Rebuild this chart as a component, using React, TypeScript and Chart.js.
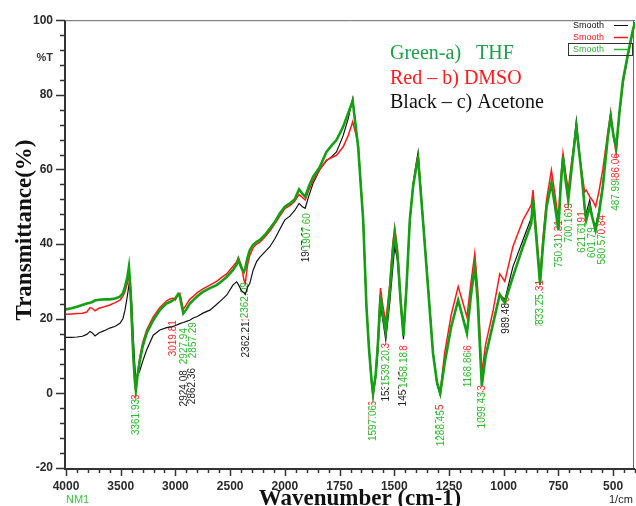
import { useEffect, useRef } from "react";
import { Chart, registerables } from "chart.js";

Chart.register(...registerables);

// ---- data (wavenumber in cm-1, transmittance in %) ----
const WAVENUMBERS = [
  4000, 3950, 3900, 3850, 3810, 3780, 3760, 3735, 3700, 3650, 3600, 3550, 3507, 3480, 3461, 3440, 3425, 3410, 3400, 3385,
  3370, 3362, 3345, 3324, 3300, 3263, 3203, 3142, 3081, 3040, 3020, 3000, 2975, 2960, 2928, 2900, 2870, 2837, 2800, 2749,
  2685, 2624, 2580, 2532, 2475, 2441, 2425, 2395, 2375, 2362, 2340, 2320, 2290, 2258, 2228, 2180, 2137, 2090, 2046, 2000,
  1977, 1955, 1935, 1920, 1907, 1890, 1871, 1840, 1810, 1785, 1764, 1734, 1711, 1690, 1665, 1642, 1627, 1615, 1604, 1597,
  1585, 1575, 1563, 1552, 1539, 1521, 1507, 1498, 1485, 1470, 1458, 1444, 1429, 1414, 1399, 1391, 1369, 1346, 1323, 1305,
  1290, 1270, 1240, 1208, 1190, 1168, 1150, 1132, 1119, 1100, 1083, 1049, 1018, 995, 958, 912, 874, 866, 850, 834,
  820, 804, 782, 765, 750, 740, 729, 717, 705, 690, 668, 646, 630, 623, 607, 592, 580, 565, 547, 524,
  511, 498, 486, 470, 455, 432, 410, 400,
];
const THF = [
  22.5, 22.8, 23.2, 23.7, 24.1, 24.3, 24.5, 24.9, 25.1, 25.2, 25.2, 25.4, 25.9, 26.8, 28.6, 31.0, 33.9, 28.0, 20.5, 10.0,
  3.0, 0.8, 5.0, 8.9, 12.5, 16.1, 19.6, 22.3, 24.1, 24.6, 25.0, 25.5, 26.6, 26.0, 21.4, 22.5, 24.0, 25.0, 26.0, 27.2,
  28.2, 29.0, 30.0, 31.2, 33.0, 34.5, 35.8, 33.5, 32.5, 33.5, 36.5, 38.4, 39.8, 40.6, 41.1, 42.5, 44.2, 46.0, 48.2, 50.0,
  50.9, 52.0, 54.7, 53.5, 52.7, 55.5, 58.0, 60.7, 64.7, 66.5, 67.9, 71.4, 75.0, 78.4, 66.0, 46.4, 23.0, 11.6, 3.6, 0.0,
  5.0, 13.0, 26.3, 21.0, 16.5, 27.0, 38.0, 42.9, 37.0, 24.0, 15.5, 28.6, 46.4, 55.4, 60.7, 62.8, 46.4, 28.6, 10.7, 3.0,
  0.0, 8.0, 17.8, 25.0, 21.0, 16.1, 26.0, 34.0, 25.0, 2.0, 9.8, 18.5, 26.5, 24.3, 31.2, 39.3, 45.5, 52.0, 41.0, 29.5,
  40.0, 50.0, 56.3, 50.0, 43.7, 55.0, 63.4, 57.0, 51.8, 60.0, 71.4, 59.8, 50.0, 46.4, 50.0, 46.4, 43.7, 48.0, 55.4, 68.8,
  74.1, 69.0, 66.0, 76.0, 83.9, 91.0, 97.3, 99.5,
];
const DMSO = [
  21.2, 21.3, 21.4, 21.5, 21.8, 23.0, 22.8, 22.1, 22.8, 23.2, 23.7, 24.3, 25.0, 26.0, 27.2, 29.5, 32.1, 25.0, 19.0, 9.5,
  2.5, 0.5, 5.5, 10.0, 13.5, 17.0, 20.5, 23.0, 24.8, 25.4, 25.5, 25.0, 26.5, 26.8, 22.5, 23.8, 25.2, 26.0, 27.0, 28.0,
  29.0, 30.0, 31.0, 32.0, 34.0, 35.2, 36.5, 34.0, 30.5, 29.5, 34.5, 37.0, 39.0, 40.0, 40.5, 42.0, 43.5, 45.5, 47.5, 49.5,
  50.3, 51.5, 53.3, 52.5, 51.8, 54.5, 57.0, 60.0, 62.5, 63.2, 63.8, 66.0, 69.0, 72.8, 67.0, 46.4, 23.0, 11.6, 3.0, -1.0,
  5.0, 14.0, 28.2, 23.5, 19.0, 29.0, 40.0, 44.6, 38.5, 25.0, 17.0, 29.0, 46.5, 56.0, 61.5, 63.5, 46.8, 29.0, 11.0, 3.0,
  0.5, 10.7, 21.0, 28.6, 25.0, 20.5, 29.5, 37.5, 28.0, 5.5, 13.0, 22.0, 32.0, 30.0, 39.3, 46.4, 50.5, 54.5, 43.0, 31.2,
  42.0, 52.0, 59.8, 53.0, 46.4, 57.0, 64.3, 59.0, 54.5, 62.0, 70.5, 60.5, 54.0, 54.5, 52.7, 51.5, 50.0, 54.0, 60.0, 70.0,
  75.4, 68.5, 64.3, 75.5, 83.0, 90.5, 97.0, 99.5,
];
const ACETONE = [
  15.0, 15.0, 15.1, 15.3, 15.8, 16.6, 16.2, 15.4, 16.2, 16.8, 17.5, 18.0, 18.8, 20.0, 22.3, 26.0, 29.0, 27.0, 24.5, 15.0,
  7.0, 4.5, 4.8, 6.2, 8.5, 11.6, 15.6, 17.0, 17.6, 17.8, 18.0, 18.2, 18.5, 18.7, 19.0, 19.3, 19.6, 20.2, 20.6, 21.5,
  22.3, 23.8, 25.0, 26.3, 29.0, 29.9, 29.2, 27.5, 27.0, 26.5, 28.5, 29.5, 33.0, 35.3, 36.5, 38.0, 39.3, 41.5, 44.0, 46.5,
  47.5, 49.0, 50.9, 50.0, 49.6, 53.0, 56.3, 60.0, 62.3, 63.5, 64.7, 69.0, 73.5, 79.0, 66.0, 46.4, 23.0, 11.6, 4.0, 0.5,
  4.0, 11.0, 23.5, 19.5, 14.3, 24.0, 33.5, 39.3, 35.5, 23.0, 14.5, 28.0, 46.0, 56.0, 62.0, 64.7, 47.0, 29.0, 11.0, 2.5,
  -0.5, 8.0, 17.8, 25.0, 21.0, 16.5, 26.5, 34.8, 25.0, 2.0, 10.0, 19.0, 26.5, 25.0, 33.9, 41.1, 47.0, 52.5, 41.0, 29.0,
  40.0, 50.5, 56.5, 50.5, 44.0, 55.0, 64.0, 57.5, 52.0, 61.0, 73.2, 60.0, 49.0, 48.2, 51.8, 46.4, 45.0, 49.0, 56.0, 69.0,
  74.0, 69.0, 66.0, 76.0, 84.0, 91.0, 97.0, 99.5,
];

const X_TICKS = [4000, 3500, 3000, 2500, 2000, 1750, 1500, 1250, 1000, 750, 500];
const Y_TICKS = [-20, 0, 20, 40, 60, 80, 100];

const SERIES_NAMES = ["THF", "DMSO", "Acetone"];
const NOTE_LINES = ["Green-a)   THF", "Red \u2013 b) DMSO", "Black \u2013 c) Acetone"];

// peak labels: series index (0 THF, 1 DMSO, 2 Acetone), text, wavenumber position, top transmittance
const PEAK_SERIES = [
  1, 1, 1, 1, 1, 1, 1, 1, 1, 1, 1, 1, 1, 1, 1, 1,
  2, 2, 2, 2, 2, 2, 2,
  0, 0, 0, 0, 0, 0, 0, 0, 0, 0, 0, 0, 0, 0, 0, 0, 0, 0, 0,
  2,
];
const PEAK_TEXTS = [
  "3361.93", "3019.81", "2362.21", "1597.06", "1539.13", "1458.18", "1288.45", "1168.86", "1099.43", "989.48", "833.31", "750.31", "700.09", "621.91", "580.84", "486.06",
  "2924.08", "2862.36", "2362.21", "1907.60", "1539.28", "1458.18", "833.25",
  "3361.93", "2927.94", "2857.29", "2362.09", "1907.60", "1597.06", "1539.20", "1458.18", "1288.45", "1168.86", "1099.43", "989.48", "833.25", "750.31", "700.16", "621.61", "601.79", "580.57", "487.99",
  "989.48",
];
const PEAK_WAVENUMBERS = [
  3362, 3020, 2360, 1598, 1540, 1458, 1290, 1166, 1099, 990, 835, 750, 703, 642, 552, 487,
  2924, 2855, 2356, 1906, 1541, 1459, 836,
  3362, 2927, 2845, 2366, 1900, 1597, 1539, 1457, 1289, 1165, 1098, 989, 834, 750, 703, 642, 596, 552, 488,
  990,
];
const PEAK_TOPS = [
  -0.3, 19.6, 20.7, -2.0, 13.5, 12.9, -3.0, 12.9, 2.2, 26.0, 30.4, 46.4, 51.0, 48.8, 47.8, 64.4,
  6.2, 6.8, 19.3, 44.8, 7.5, 6.2, 26.1,
  -1.5, 17.5, 19.1, 29.8, 48.3, -3.1, 11.6, 11.1, -4.5, 11.1, 0.3, 24.2, 26.6, 41.9, 48.6, 45.9, 44.5, 42.7, 57.1,
  24.2,
];

// ---- helpers: the instrument plots 4000-2000 at half the scale of 2000-400 ----
const toAxis = (w: number) => (w >= 2000 ? (4000 - w) / 2 : 1000 + (2000 - w));
const fromAxis = (p: number) => (p <= 1000 ? 4000 - 2 * p : 2000 - (p - 1000));

const LINE_COLORS = ["#14a014", "#ff1a1a", "#111111"];
const LABEL_COLORS = ["#2fb82f", "#ff2a2a", "#222222"];
const SERIF = "'Liberation Serif', 'Times New Roman', serif";
const SANS = "'Liberation Sans', Arial, sans-serif";

const decorPlugin = {
  id: "decor",
  beforeDatasetsDraw(chart: any) {
    const { ctx, scales } = chart;
    const xs = scales.x;
    const ys = scales.y;
    ctx.save();
    ctx.font = `10px ${SANS}`;
    ctx.textAlign = "right";
    ctx.textBaseline = "middle";
    PEAK_TEXTS.forEach((t, i) => {
      const px = xs.getPixelForValue(toAxis(PEAK_WAVENUMBERS[i]));
      const py = ys.getPixelForValue(PEAK_TOPS[i]);
      const w = ctx.measureText(t).width;
      ctx.save();
      ctx.translate(px, py);
      ctx.rotate(-Math.PI / 2);
      ctx.fillStyle = "#ffffff";
      ctx.fillRect(-w - 1, -4.5, w + 1, 9);
      ctx.fillStyle = LABEL_COLORS[PEAK_SERIES[i]];
      ctx.fillText(t, 0, 0.5);
      ctx.restore();
    });
    ctx.restore();
  },
  afterDraw(chart: any) {
    const { ctx, chartArea, scales } = chart;
    const { left, right, top, bottom } = chartArea;
    const xs = scales.x;
    const ys = scales.y;
    ctx.save();

    // frame
    ctx.strokeStyle = "#666";
    ctx.lineWidth = 1;
    ctx.beginPath();
    ctx.moveTo(left, top + 0.5);
    ctx.lineTo(right, top + 0.5);
    ctx.moveTo(right - 1.5, top);
    ctx.lineTo(right - 1.5, bottom);
    ctx.stroke();
    ctx.strokeStyle = "#333";
    ctx.lineWidth = 2;
    ctx.beginPath();
    ctx.moveTo(left - 1, top);
    ctx.lineTo(left - 1, bottom + 1);
    ctx.lineTo(right, bottom + 1);
    ctx.stroke();

    // ticks
    ctx.lineWidth = 1.5;
    ctx.beginPath();
    for (let p = 0; p <= 2600; p += 50) {
      const px = Math.round(xs.getPixelForValue(p)) + 0.5;
      const len = p % 250 === 0 ? 7 : 4;
      ctx.moveTo(px, bottom + 1);
      ctx.lineTo(px, bottom + 1 + len);
    }
    for (let v = -20; v <= 100; v += 4) {
      const py = Math.round(ys.getPixelForValue(v)) + 0.5;
      const len = v % 20 === 0 ? 9 : 5;
      ctx.moveTo(left - 1, py);
      ctx.lineTo(left - 1 - len, py);
    }
    ctx.stroke();

    // axis titles
    ctx.fillStyle = "#111";
    ctx.font = `bold 23px ${SERIF}`;
    ctx.textAlign = "center";
    ctx.textBaseline = "alphabetic";
    ctx.fillText("Wavenumber (cm-1)", 360, 505);
    ctx.save();
    ctx.translate(31, 230);
    ctx.rotate(-Math.PI / 2);
    ctx.fillText("Transmittance(%)", 0, 0);
    ctx.restore();

    ctx.font = `bold 11px ${SANS}`;
    ctx.fillStyle = "#333";
    ctx.textAlign = "right";
    ctx.textBaseline = "middle";
    ctx.fillText("%T", 53, 58);
    ctx.textAlign = "left";
    ctx.font = `11px ${SANS}`;
    ctx.fillStyle = "#222";
    ctx.fillText("1/cm", 609, 500);
    ctx.fillStyle = "#3cc43c";
    ctx.fillText("NM1", 66, 500);

    // note text
    ctx.font = `20px ${SERIF}`;
    ctx.textAlign = "left";
    ctx.textBaseline = "alphabetic";
    const noteColors = ["#1f9e48", "#ff1a1a", "#111"];
    NOTE_LINES.forEach((t, i) => {
      ctx.fillStyle = noteColors[i];
      ctx.fillText(t, 390, 59 + i * 24.5);
    });

    // small legend
    ctx.font = `9px ${SANS}`;
    ctx.textBaseline = "middle";
    const legendColors = [LINE_COLORS[2], LINE_COLORS[1], "#2fb82f"];
    [25.5, 37.5, 49.5].forEach((yy, i) => {
      ctx.fillStyle = legendColors[i];
      ctx.fillText("Smooth", 573, yy);
      ctx.strokeStyle = legendColors[i];
      ctx.lineWidth = i === 0 ? 1 : 1.5;
      ctx.beginPath();
      ctx.moveTo(614, yy);
      ctx.lineTo(628, yy);
      ctx.stroke();
    });
    ctx.strokeStyle = "#333";
    ctx.lineWidth = 1;
    ctx.strokeRect(568.5, 43.5, 64, 12);

    ctx.restore();
  },
};

export default function App() {
  const ref = useRef<HTMLCanvasElement>(null);
  useEffect(() => {
    document.body.style.margin = "0";
    const series = [THF, DMSO, ACETONE];
    const widths = [2.6, 1.5, 1.2];
    const chart = new Chart(ref.current as HTMLCanvasElement, {
      type: "line",
      data: {
        datasets: series.map((vals, i) => ({
          label: SERIES_NAMES[i],
          data: WAVENUMBERS.map((w, j) => ({ x: toAxis(w), y: vals[j] })),
          borderColor: LINE_COLORS[i],
          borderWidth: widths[i],
          pointRadius: 0,
          tension: 0,
          fill: false,
        })),
      },
      options: {
        responsive: false,
        animation: false,
        devicePixelRatio: 1,
        layout: { padding: { top: 20, right: 1, left: 0, bottom: 0 } },
        plugins: { legend: { display: false }, tooltip: { enabled: false } },
        scales: {
          x: {
            type: "linear",
            min: 0,
            max: 2600,
            afterBuildTicks: (s: any) => {
              s.ticks = X_TICKS.map((w) => ({ value: toAxis(w) }));
            },
            afterFit: (s: any) => {
              s.height = 38;
            },
            ticks: {
              autoSkip: false,
              maxRotation: 0,
              padding: 11,
              color: "#2a2a2a",
              font: { family: SANS, size: 12, weight: "bold" },
              callback: (v: any) => String(fromAxis(Number(v))),
            },
            grid: { display: false, drawTicks: false },
            border: { display: false },
          },
          y: {
            type: "linear",
            min: -20,
            max: 100,
            afterBuildTicks: (s: any) => {
              s.ticks = Y_TICKS.map((v) => ({ value: v }));
            },
            afterFit: (s: any) => {
              s.width = 66;
            },
            ticks: {
              padding: 13,
              color: "#2a2a2a",
              font: { family: SANS, size: 12, weight: "bold" },
            },
            grid: { display: false, drawTicks: false },
            border: { display: false },
          },
        },
      },
      plugins: [decorPlugin],
    } as any);
    return () => chart.destroy();
  }, []);
  return (
    <div style={{ width: 636, height: 506 }}>
      <canvas ref={ref} width={636} height={506} style={{ display: "block" }} />
    </div>
  );
}
